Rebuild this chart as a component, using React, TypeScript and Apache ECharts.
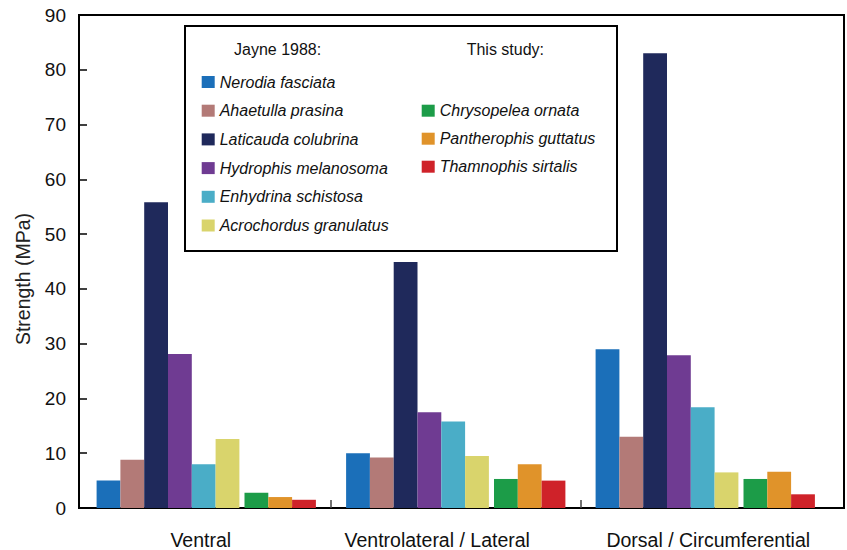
import React, { useEffect, useRef } from "react";
import * as echarts from "echarts";

// Tissue strength by body region
const regions = ["Ventral", "Ventrolateral / Lateral", "Dorsal / Circumferential"];

const jayneSpecies = [
  "Nerodia fasciata",
  "Ahaetulla prasina",
  "Laticauda colubrina",
  "Hydrophis melanosoma",
  "Enhydrina schistosa",
  "Acrochordus granulatus",
];
const studySpecies = ["Chrysopelea ornata", "Pantherophis guttatus", "Thamnophis sirtalis"];

// Strength (MPa) per region: Ventral, Ventrolateral / Lateral, Dorsal / Circumferential
const nerodia = [5.0, 10.0, 29.0];
const ahaetulla = [8.8, 9.2, 13.0];
const laticauda = [55.8, 44.9, 83.0];
const hydrophis = [28.1, 17.5, 27.9];
const enhydrina = [8.0, 15.8, 18.4];
const acrochordus = [12.6, 9.5, 6.5];
const chrysopelea = [2.8, 5.3, 5.3];
const pantherophis = [2.0, 8.0, 6.6];
const thamnophis = [1.5, 5.0, 2.5];

const jayneValues = [nerodia, ahaetulla, laticauda, hydrophis, enhydrina, acrochordus];
const studyValues = [chrysopelea, pantherophis, thamnophis];

const yTicks = { min: 0, max: 90, step: 10 };

const jayneColors = ["#1b6fb9", "#b37a77", "#1f295b", "#6f3b92", "#4aadc7", "#d9d46c"];
const studyColors = ["#1c9c48", "#e0932a", "#cf2229"];

// horizontal nudges for the region labels (px, positive = right)
const labelNudge = [-5.5, -18.5, 3];

const FONT = "'Liberation Sans', Arial, Helvetica, sans-serif";
const BAR_W = 23.8;
const GAP_W = 5.1;

export default function App() {
  const ref = useRef<HTMLDivElement>(null);

  useEffect(() => {
    if (!ref.current) return;
    const chart = echarts.init(ref.current, undefined, { renderer: "svg" });

    const barSeries = (name: string, data: number[], color: string) => ({
      type: "bar",
      name,
      data,
      xAxisIndex: 0,
      yAxisIndex: 1,
      barWidth: BAR_W,
      barGap: "0%",
      itemStyle: { color },
      silent: true,
    });

    const series: any[] = [
      ...jayneSpecies.map((n, i) => barSeries(n, jayneValues[i], jayneColors[i])),
      // spacer between the two sources
      {
        type: "bar",
        name: "spacer",
        data: regions.map(() => null),
        xAxisIndex: 0,
        yAxisIndex: 1,
        barWidth: GAP_W,
        barGap: "0%",
        silent: true,
      },
      ...studySpecies.map((n, i) => barSeries(n, studyValues[i], studyColors[i])),
    ];

    const rich: Record<string, any> = {};
    labelNudge.forEach((d, i) => {
      rich["c" + i] = {
        fontSize: 19.5,
        fontFamily: FONT,
        color: "#111",
        padding: d < 0 ? [0, -2 * d, 0, 0] : [0, 0, 0, 2 * d],
      };
    });

    const legendCommon = {
      orient: "vertical",
      icon: "rect",
      itemWidth: 13,
      itemHeight: 12,
      padding: 0,
      selectedMode: false,
      itemStyle: { borderWidth: 0 },
      textStyle: { fontSize: 16, fontStyle: "italic", fontFamily: FONT, color: "#111" },
    };

    chart.setOption({
      animation: false,
      backgroundColor: "#fff",
      grid: [
        { left: 81.5, right: 17, top: 15, bottom: 42 },
        {
          left: 79,
          right: 3,
          top: 15,
          bottom: 42,
          show: true,
          borderColor: "#000",
          borderWidth: 2,
          backgroundColor: "transparent",
        },
      ],
      xAxis: [
        {
          type: "category",
          gridIndex: 0,
          data: regions,
          axisLine: { show: false },
          axisTick: { show: false },
          axisLabel: {
            margin: 22,
            formatter: (v: string, i: number) => `{c${i}|${v}}`,
            rich,
          },
        },
        {
          type: "value",
          gridIndex: 0,
          min: 0,
          max: regions.length,
          position: "bottom",
          axisLine: { show: false },
          axisLabel: { show: false },
          splitLine: { show: false },
          axisTick: {
            show: true,
            inside: true,
            length: 8,
            customValues: regions.slice(1).map((_, i) => i + 1),
            lineStyle: { color: "#444", width: 1.5 },
          },
        },
        {
          type: "value",
          gridIndex: 1,
          show: false,
          min: 0,
          max: 1,
        },
      ],
      yAxis: [
        {
          type: "value",
          gridIndex: 1,
          min: yTicks.min,
          max: yTicks.max,
          interval: yTicks.step,
          axisLine: { show: true, lineStyle: { color: "#000", width: 2 } },
          axisTick: { show: true, inside: true, length: 8, lineStyle: { color: "#000", width: 1.5 } },
          axisLabel: { margin: 13, fontSize: 19, fontFamily: FONT, color: "#111" },
          splitLine: { show: false },
        },
        {
          type: "value",
          gridIndex: 0,
          show: false,
          min: yTicks.min,
          max: yTicks.max,
          interval: yTicks.step,
        },
      ],
      legend: [
        { ...legendCommon, data: jayneSpecies, left: 201.7, top: 74, itemGap: 12.7 },
        { ...legendCommon, data: studySpecies, left: 421.7, top: 102.7, itemGap: 12 },
      ],
      graphic: [
        {
          type: "rect",
          z: 5,
          shape: { x: 185, y: 26, width: 432, height: 225 },
          style: { fill: "transparent", stroke: "#000", lineWidth: 2 },
          silent: true,
        },
        {
          type: "text",
          z: 6,
          x: 234,
          y: 49.3,
          style: {
            text: "Jayne 1988:",
            fontSize: 16,
            fontFamily: FONT,
            fill: "#111",
            verticalAlign: "middle",
          },
        },
        {
          type: "text",
          z: 6,
          x: 466.7,
          y: 49,
          style: {
            text: "This study:",
            fontSize: 16,
            fontFamily: FONT,
            fill: "#111",
            verticalAlign: "middle",
          },
        },
        {
          type: "text",
          z: 6,
          x: 23,
          y: 279,
          rotation: Math.PI / 2,
          style: {
            text: "Strength (MPa)",
            fontSize: 19.5,
            fontFamily: FONT,
            fill: "#222",
            align: "center",
            verticalAlign: "middle",
          },
        },
      ],
      series,
    });

    return () => chart.dispose();
  }, []);

  return (
    <div
      ref={ref}
      style={{ position: "absolute", left: 0, top: 0, width: 847, height: 550, background: "#fff" }}
    />
  );
}
